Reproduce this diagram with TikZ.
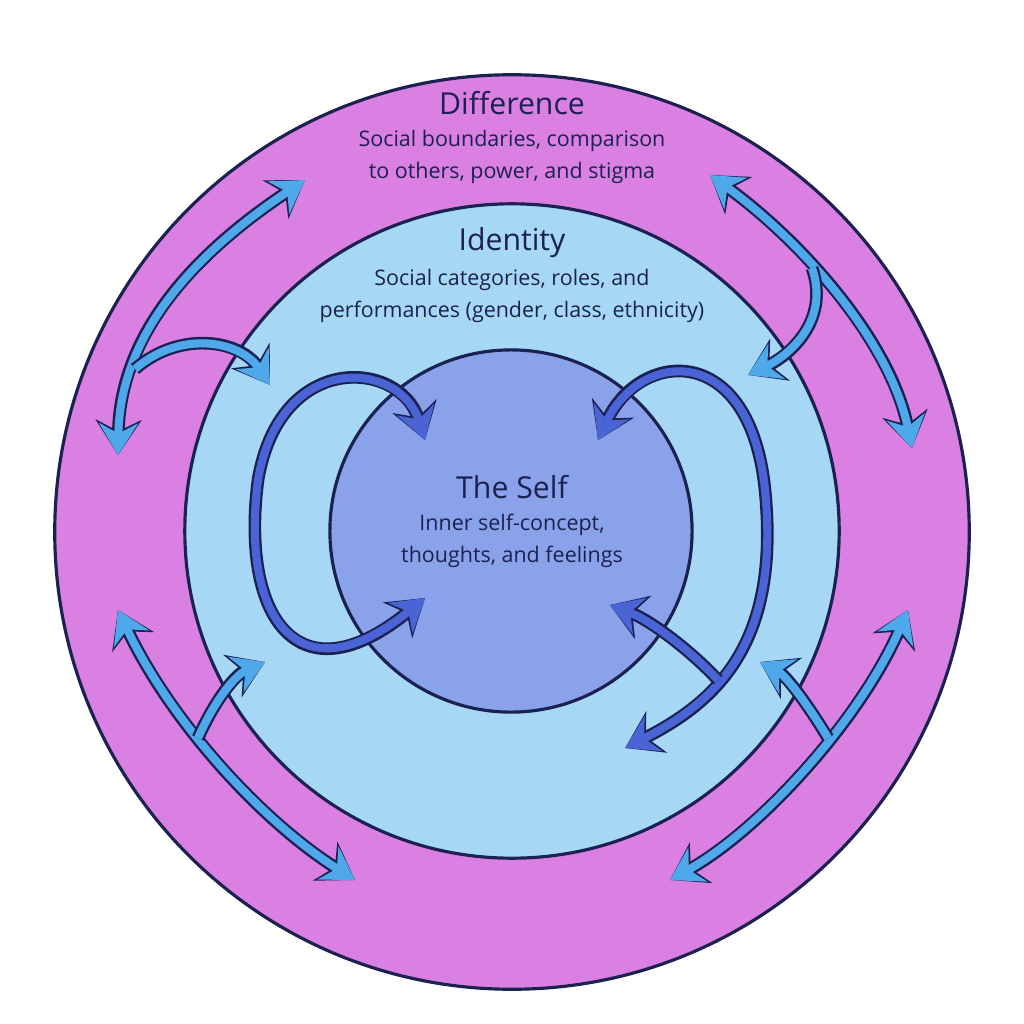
\documentclass[tikz,border=0pt]{standalone}
\usepackage{fontspec}
\setmainfont{Open Sans}
\usetikzlibrary{arrows.meta}
\definecolor{ringout}{HTML}{DA80E2}
\definecolor{ringmid}{HTML}{A6D8F6}
\definecolor{selfcol}{HTML}{8AA2EA}
\definecolor{inkline}{HTML}{1B2150}
\definecolor{linkblue}{HTML}{4EA8EA}
\definecolor{loopblue}{HTML}{4A64D6}
\begin{document}
\begin{tikzpicture}[x=0.01cm,y=-0.01cm]
    \tikzstyle{ring}=[draw=inkline, line width=0.9pt]
    \tikzstyle{title}=[font=\fontsize{8.6}{10}\selectfont, text=inkline]
    \tikzstyle{sub}=[font=\fontsize{6.1}{9}\selectfont, text=inkline, align=center]
    % two-way links across the rings
    \tikzstyle{link}=[line width=2.3pt, draw=linkblue, {Stealth[length=9pt,width=11pt]}-{Stealth[length=9pt,width=11pt]},
        preaction={draw=inkline, line width=3.6pt, {Stealth[length=10pt,width=13pt]}-{Stealth[length=10pt,width=13pt]}}]
    \tikzstyle{branch}=[line width=2.3pt, draw=linkblue, -{Stealth[length=9pt,width=11pt]},
        preaction={draw=inkline, line width=3.6pt, -{Stealth[length=10pt,width=13pt]}}]
    \tikzstyle{selfloop}=[link, draw=loopblue]
    \tikzstyle{selfbranch}=[branch, draw=loopblue]
    \useasboundingbox (0,0) rectangle (1024,1024);
    \fill[white] (0,0) rectangle (1024,1024);
    % rings
    \node[ring, circle, fill=ringout, minimum size=9.14cm] (outer) at (512,532) {};
    \node[ring, circle, fill=ringmid, minimum size=6.54cm] (mid) at (512,531) {};
    \node[ring, circle, fill=selfcol, minimum size=3.62cm] (self) at (511,531) {};
    % labels
    \node[title] (difft) at (512,103) {Difference};
    \node[sub] (diffs) at (512,157) {Social boundaries, comparison\\to others, power, and stigma};
    \node[title] (idt) at (512,243) {Identity};
    \node[sub] (ids) at (512,296) {Social categories, roles, and\\performances (gender, class, ethnicity)};
    \node[title] (selft) at (512,487) {The Self};
    \node[sub] (selfs) at (512,541) {Inner self-concept,\\thoughts, and feelings};
    % link end points
    \coordinate (tl1) at (305,180); \coordinate (tl2) at (118,455);
    \coordinate (tl3) at (135,369); \coordinate (tl4) at (270,385);
    \coordinate (tr1) at (710,175); \coordinate (tr2) at (912,448);
    \coordinate (tr3) at (812,268); \coordinate (tr4) at (748,375);
    \coordinate (bl1) at (118,610); \coordinate (bl2) at (355,880);
    \coordinate (bl3) at (198,738); \coordinate (bl4) at (265,662);
    \coordinate (br1) at (908,610); \coordinate (br2) at (670,880);
    \coordinate (br3) at (828,738); \coordinate (br4) at (760,662);
    \coordinate (sl1) at (425,440); \coordinate (sl2) at (425,598);
    \coordinate (sr1) at (598,440); \coordinate (sr2) at (625,748);
    \coordinate (sr3) at (610,605); \coordinate (sr4) at (718,680);
    % outer links
    \draw[link] (tl1) .. controls (200,250) and (120,330) .. (tl2);
    \draw[branch] (tl3) .. controls (180,330) and (240,340) .. (tl4);
    \draw[link] (tr1) .. controls (800,240) and (890,340) .. (tr2);
    \draw[branch] (tr3) .. controls (830,320) and (790,355) .. (tr4);
    \draw[link] (bl1) .. controls (170,720) and (260,820) .. (bl2);
    \draw[branch] (bl3) .. controls (215,700) and (235,675) .. (bl4);
    \draw[link] (br1) .. controls (860,720) and (760,830) .. (br2);
    \draw[branch] (br3) .. controls (805,700) and (785,675) .. (br4);
    % loops around the self
    \draw[selfloop] (sl1) .. controls (400,360) and (280,350) .. (258,480)
        .. controls (240,620) and (300,700) .. (sl2);
    \draw[selfloop] (sr1) .. controls (640,350) and (750,340) .. (765,490)
        .. controls (780,640) and (720,700) .. (sr2);
    \draw[selfbranch] (sr4) .. controls (690,650) and (650,620) .. (sr3);
\end{tikzpicture}
\end{document}
